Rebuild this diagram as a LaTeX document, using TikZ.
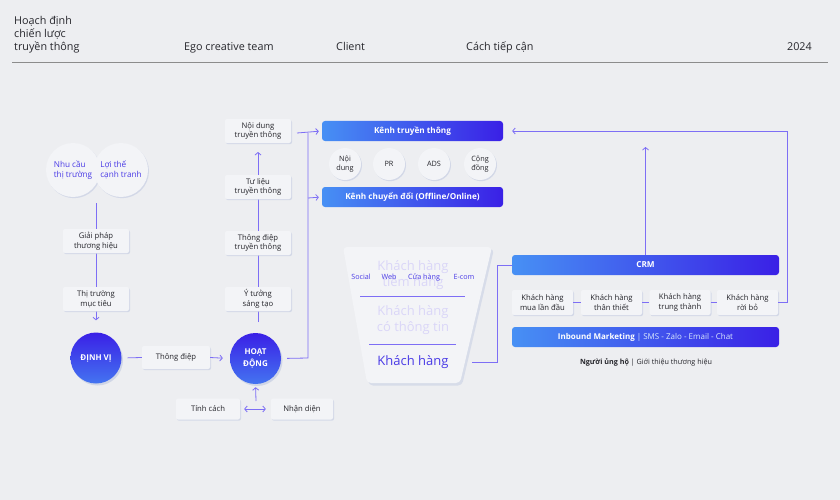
\documentclass[tikz,border=0pt]{standalone}
\usepackage{fontspec}
\setmainfont{Open Sans}
\usetikzlibrary{arrows.meta,shadows,calc}
\definecolor{bgc}{HTML}{EDEEF1}
\definecolor{linec}{HTML}{7D6EF5}
\definecolor{violt}{HTML}{4A3BE6}
\definecolor{darkt}{HTML}{26262C}
\definecolor{boxf}{HTML}{F3F4F7}
\definecolor{gradl}{HTML}{4790F4}
\definecolor{gradr}{HTML}{3A20E6}
\definecolor{fadet}{HTML}{DAD6F8}
\definecolor{shad}{HTML}{C9D0E4}
\tikzset{
  ln/.style={draw=linec, line width=0.8pt},
  arw/.style={-{Straight Barb[length=2.5pt,width=6pt]}},
  darw/.style={{Straight Barb[length=2.5pt,width=6pt]}-{Straight Barb[length=2.5pt,width=6pt]}},
  softshadow/.style={general shadow={fill=shad, opacity=.7, shadow xshift=1pt, shadow yshift=-1.2pt}},
  box/.style={fill=boxf, rounded corners=2pt, minimum width=66pt, minimum height=24pt,
    align=center, inner sep=1pt, font=\fontsize{7.7}{9.6}\selectfont, text=darkt, softshadow},
  softcirc/.style={circle, fill=boxf, minimum size=54pt, inner sep=0pt, align=left,
    font=\fontsize{8.2}{10}\selectfont, text=violt, softshadow},
  chcirc/.style={circle, fill=boxf, minimum size=32pt, inner sep=0pt, align=center,
    font=\fontsize{7.3}{8.8}\selectfont, text=darkt, softshadow},
  gcirc/.style={circle, top color=gradr, bottom color=gradl!75!gradr, minimum size=51pt,
    inner sep=0pt, align=center, text=white, font=\bfseries\fontsize{8}{12}\selectfont,
    general shadow={fill=shad, opacity=.8, shadow xshift=1.5pt, shadow yshift=-2pt}},
  bar/.style={rounded corners=3pt, left color=gradl, right color=gradr, minimum height=20pt,
    inner sep=0pt, text=white, font=\fontsize{8}{9.5}\selectfont},
  hdr/.style={font=\fontsize{10.8}{12.8}\selectfont, text=darkt, inner sep=0pt},
  fade/.style={font=\fontsize{13}{16.5}\selectfont, text=fadet, align=center, inner sep=0pt},
  chl/.style={font=\fontsize{7.2}{8.5}\selectfont, text=violt, inner sep=0pt},
}
\begin{document}
\begin{tikzpicture}[x=1pt,y=-1pt]
\useasboundingbox (0,0) rectangle (840,500);
\fill[bgc] (0,0) rectangle (840,500);

% header
\node[hdr, anchor=south west, align=left] (h1) at (14,53) {Hoạch định\\chiến lược\\truyền thông};
\node[hdr, anchor=base west] (h2) at (184,51) {Ego creative team};
\node[hdr, anchor=base west] (h3) at (336,51) {Client};
\node[hdr, anchor=base west] (h4) at (466,51) {Cách tiếp cận};
\node[hdr, anchor=base east] (h5) at (812,51) {2024};
\draw[black!45, line width=0.6pt] (12,62) -- (828,62);

% main nodes (positions)
\node[softcirc] (nhu) at (73,170) {Nhu cầu\\thị trường};
\node[softcirc] (lt) at (121,170) {Lợi thế\\cạnh tranh};
\node[gcirc] (dv) at (96,358) {ĐỊNH VỊ};
\node[gcirc] (hd) at (255.5,358.5) {HOẠT\\ĐỘNG};
\coordinate (a1) at (96,203);
\coordinate (m1) at (258,322);
\coordinate (r1) at (308,358);
\coordinate (r2) at (308,133);
\coordinate (r3) at (297,133);
\coordinate (r4) at (308,198);
\coordinate (u1) at (256,401);
\coordinate (crmtop) at (645.5,147);
\coordinate (e1) at (787,302.5);
\coordinate (e2) at (787,131);
\coordinate (f1) at (472,362);
\coordinate (f2) at (497,362);
\coordinate (f3) at (497,265);

% bars
\node[bar, minimum width=181pt, font=\bfseries\fontsize{8.2}{9.5}\selectfont] (ktt) at (412.5,131) {Kênh truyền thông};
\node[bar, minimum width=181pt, font=\bfseries\fontsize{8.2}{9.5}\selectfont] (kcd) at (412.5,197) {Kênh chuyển đổi (Offline/Online)};
\node[bar, minimum width=267pt, font=\bfseries\fontsize{8.2}{9.5}\selectfont] (crm) at (645.5,265) {CRM};
\node[bar, minimum width=267pt] (inb) at (645.5,337) {\textbf{Inbound Marketing} {\color{white!80!gradl}| SMS - Zalo - Email - Chat}};

% connectors (drawn before boxes)
\draw[ln, arw, shorten >=12pt] (a1) -- (dv.north);
\draw[ln, arw] (m1) -- (258,152);
\draw[ln, shorten <=6pt] (hd.east) -- (r1) -- (r2);
\draw[ln, arw, shorten >=3pt] (r3) -- (ktt.west);
\draw[ln, arw, shorten >=3pt] (r4) -- (kcd.west);
\draw[ln, arw, shorten >=3pt] (u1) -- (hd.south);
\draw[ln, arw] (crm.north) -- (crmtop);
\draw[ln, arw, shorten >=9pt] (e1) -- (e2) -- (ktt.east);
\draw[ln] (f1) -- (f2) -- (f3) -- (crm.west);

% funnel
\fill[shad, opacity=.6, rounded corners=4pt] (345,249) -- (494,249) -- (462,385.5) -- (369,385.5) -- cycle;
\fill[boxf, rounded corners=4pt] (343,247) -- (492,247) -- (460,383) -- (367,383) -- cycle;
\node[fade] (fk1) at (413,275) {Khách hàng\\tiềm năng};
\node[chl] (s1) at (361,277) {Social};
\node[chl] (s2) at (389,277) {Web};
\node[chl] (s3) at (424,277) {Cửa hàng};
\node[chl] (s4) at (464,277) {E-com};
\draw[linec, line width=0.7pt] (360,296) -- (465,296);
\node[fade] (fk2) at (413,320) {Khách hàng\\có thông tin};
\draw[linec, line width=0.7pt] (369,344) -- (456,344);
\node[font=\fontsize{13}{15}\selectfont, text=violt, inner sep=0pt] (fk3) at (413,362) {Khách hàng};

% boxes
\node[box] (gp) at (96,241) {Giải pháp\\thương hiệu};
\node[box] (tt) at (96,299) {Thị trường\\mục tiêu};
\node[box, minimum width=68pt, minimum height=23pt] (td) at (176,357.5) {Thông điệp};
\node[box] (nd) at (258,131) {Nội dung\\truyền thông};
\node[box] (tl) at (258,187) {Tư liệu\\truyền thông};
\node[box] (tdt) at (258,243) {Thông điệp\\truyền thông};
\node[box] (yt) at (258,299) {Ý tưởng\\sáng tạo};
\node[box, minimum width=64pt, minimum height=21pt] (tc) at (208,409) {Tính cách};
\node[box, minimum width=62pt, minimum height=21pt] (nh) at (302,409) {Nhận diện};

\draw[ln, shorten <=6pt] (dv.east) -- (td.west);
\draw[ln, arw, shorten >=7pt] (td.east) -- (hd.west);
\draw[ln, darw, shorten <=4pt, shorten >=5pt] (tc.east) -- (nh.west);

% channel circles
\node[chcirc] (c1) at (345,164) {Nội\\dung};
\node[chcirc] (c2) at (389,164) {PR};
\node[chcirc] (c3) at (434,164) {ADS};
\node[chcirc] (c4) at (480,164) {Cộng\\đồng};

% customer boxes
\node[box, minimum width=61pt, minimum height=25pt] (k1) at (542.5,302.5) {Khách hàng\\mua lần đầu};
\node[box, minimum width=61pt, minimum height=25pt] (k2) at (611.5,302.5) {Khách hàng\\thân thiết};
\node[box, minimum width=61pt, minimum height=25pt] (k3) at (680,302.5) {Khách hàng\\trung thành};
\node[box, minimum width=61pt, minimum height=25pt] (k4) at (747.5,302.5) {Khách hàng\\rời bỏ};
\draw[ln] (k1.east) -- (k2.west);
\draw[ln] (k2.east) -- (k3.west);
\draw[ln] (k3.east) -- (k4.west);
\draw[ln] (k4.east) -- (e1);

\node[font=\fontsize{7.2}{8.5}\selectfont, text=darkt, inner sep=0pt] (ung) at (646,362) {\textbf{Người ủng hộ} | Giới thiệu thương hiệu};
\end{tikzpicture}
\end{document}
